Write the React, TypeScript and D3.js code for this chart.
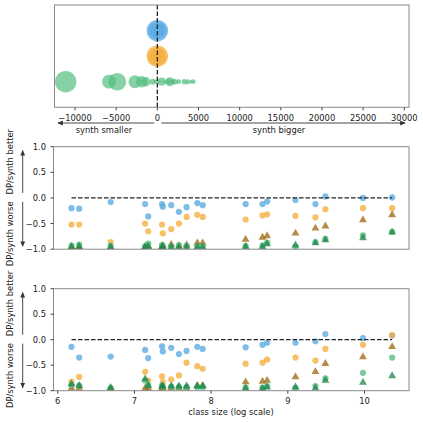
import React from 'react'
import * as d3 from 'd3'

// log of class size, one per class
const logClassSize = [6.18, 6.28, 6.69, 7.14, 7.18, 7.36, 7.37, 7.48, 7.58, 7.68, 7.82, 7.89, 8.45, 8.67, 8.73, 9.1, 9.36, 9.49, 9.98, 10.36]

// synth class size minus real class size (top panel)
const sizeDiffBlue = logClassSize.map(() => 0)
const sizeDiffOrange = logClassSize.map(() => 0)
const sizeDiffGreen = [300, 800, 4100, -200, 1900, 2600, 4370, 3690, 3280, 2150, -560, 1350, 530, 1540, -1410, -1900, -2710, -5870, -4860, -11130]

// middle panel
const blueA = [-0.2, -0.21, -0.08, -0.12, -0.36, -0.12, -0.17, -0.14, -0.27, -0.18, -0.1, -0.14, -0.12, -0.12, -0.07, -0.04, -0.12, 0.03, 0.0, 0.01]
const orangeA = [-0.52, -0.52, -0.86, -0.5, -0.65, -0.52, -0.69, -0.61, -0.5, -0.37, -0.33, -0.37, -0.42, -0.34, -0.32, -0.35, -0.38, -0.22, -0.2, -0.2]
const brownA = [-0.95, -0.95, -0.96, -0.95, -0.94, -0.95, -0.93, -0.91, -0.94, -0.92, -0.88, -0.88, -0.81, -0.77, -0.74, -0.69, -0.59, -0.55, -0.43, -0.33]
const greenA = [-0.93, -0.91, -0.93, -0.94, -0.89, -0.92, -0.93, -0.94, -0.92, -0.93, -0.94, -0.94, -0.94, -0.93, -0.87, -0.95, -0.86, -0.8, -0.73, -0.66]
const dkgreenA = [-0.96, -0.95, -0.96, -0.96, -0.95, -0.96, -0.96, -0.96, -0.96, -0.96, -0.96, -0.96, -0.95, -0.95, -0.9, -0.92, -0.88, -0.82, -0.78, -0.67]

// bottom panel
const blueB = [-0.14, -0.35, -0.33, -0.2, -0.36, -0.13, -0.23, -0.16, -0.28, -0.22, -0.14, -0.18, -0.15, -0.1, -0.06, -0.06, -0.03, 0.11, 0.03, 0.08]
const orangeB = [-0.82, -0.73, -0.97, -0.63, -0.8, -0.72, -0.83, -0.78, -0.7, -0.45, -0.52, -0.57, -0.47, -0.45, -0.39, -0.35, -0.41, -0.18, -0.1, 0.09]
const brownB = [-0.95, -0.95, -0.96, -0.95, -0.95, -0.95, -0.95, -0.95, -0.95, -0.95, -0.9, -0.9, -0.83, -0.82, -0.8, -0.73, -0.63, -0.47, -0.34, -0.14]
const greenB = [-0.89, -0.9, -0.95, -0.8, -0.89, -0.9, -0.92, -0.92, -0.93, -0.93, -0.93, -0.93, -0.94, -0.94, -0.91, -0.95, -0.91, -0.76, -0.65, -0.35]
const dkgreenB = [-0.87, -0.9, -0.94, -0.77, -0.9, -0.91, -0.91, -0.91, -0.91, -0.91, -0.91, -0.91, -0.95, -0.96, -0.93, -0.93, -0.95, -0.8, -0.84, -0.71]

const topTicks = [-10000, -5000, 0, 5000, 10000, 15000, 20000, 25000, 30000]
const yTicks = [-1, -0.5, 0, 0.5, 1]
const xTicks = [6, 7, 8, 9, 10]

const BLUE = '#5DADE2'
const ORANGE = '#F5B041'
const GREEN = '#52BE80'
const BROWN = '#9C640C'
const DKGREEN = '#1E8449'
const FONT = 'DejaVu Sans, sans-serif'
const FS = 8.33
const SPINE = '#8a8a8a'

const tri = d3.symbol().type(d3.symbolTriangle).size(27)

function ScatterPanel({ top, bottom, id, series, showX }) {
  const left = 53.5, right = 409
  const x = d3.scaleLinear().domain([5.945, 10.58]).range([left, right])
  const y = d3.scaleLinear().domain([-1, 1]).range([bottom, top])
  const mid = y(0)
  const x0 = x(d3.min(logClassSize)), x1 = x(d3.max(logClassSize))
  return (
    <g>
      <defs>
        <clipPath id={id}><rect x={left} y={top} width={right - left} height={bottom - top} /></clipPath>
      </defs>
      <g clipPath={`url(#${id})`}>
        {series.map((s, si) => s.vals.map((v, i) => s.shape === 'o'
          ? <circle key={si + '-' + i} cx={x(logClassSize[i])} cy={y(v)} r={3.1} fill={s.color} fillOpacity={0.8} />
          : <path key={si + '-' + i} d={tri()} transform={`translate(${x(logClassSize[i])},${y(v)})`} fill={s.color} fillOpacity={0.75} />))}
      </g>
      <line x1={x0} x2={x1} y1={mid} y2={mid} stroke="#222" strokeWidth={1.3} strokeDasharray="4.5,2" />
      <rect x={left} y={top} width={right - left} height={bottom - top} fill="none" stroke={SPINE} strokeWidth={1} />
      {yTicks.map(t => (
        <g key={t}>
          <line x1={left - 3} x2={left} y1={y(t)} y2={y(t)} stroke="#444" />
          <text x={left - 7.5} y={y(t) + 3} textAnchor="end" fontSize={FS} fontFamily={FONT} fill="#222">{d3.format('.1f')(t)}</text>
        </g>
      ))}
      {showX && xTicks.map(t => (
        <g key={t}>
          <line x1={x(t)} x2={x(t)} y1={bottom} y2={bottom + 3} stroke="#444" />
          <text x={x(t)} y={bottom + 13} textAnchor="middle" fontSize={FS} fontFamily={FONT} fill="#222">{t}</text>
        </g>
      ))}
      {/* y label with arrows */}
      <text transform={`translate(12.5,${mid - 3.5}) rotate(-90)`} textAnchor="start" fontSize={FS} fontFamily={FONT} fill="#222">DP/synth better</text>
      <text transform={`translate(12.5,${mid + 3.5}) rotate(-90)`} textAnchor="end" fontSize={FS} fontFamily={FONT} fill="#222">DP/synth worse</text>
      <line x1={22.7} x2={22.7} y1={mid - 5} y2={top + 4} stroke="#333" strokeWidth={0.9} markerEnd="url(#arr)" />
      <line x1={22.7} x2={22.7} y1={mid + 4} y2={bottom - 3} stroke="#333" strokeWidth={0.9} markerEnd="url(#arr)" />
    </g>
  )
}

function TopPanel() {
  const left = 54.5, right = 409, top = 5, bottom = 107.3
  const x = d3.scaleLinear().domain([-12490, 30570]).range([left, right])
  const y = d3.scaleLinear().domain([-1, 3]).range([bottom, top])
  const r = d3.scaleSqrt().domain([0, Math.exp(10.36)]).range([0, 10.7])
  const rows = [
    { vals: sizeDiffBlue, color: BLUE, row: 2, op: 0.8 },
    { vals: sizeDiffOrange, color: ORANGE, row: 1, op: 0.8 },
    { vals: sizeDiffGreen, color: GREEN, row: 0, op: 0.7 },
  ]
  return (
    <g>
      <defs>
        <clipPath id="clipTop"><rect x={left} y={top} width={right - left} height={bottom - top} /></clipPath>
      </defs>
      <g clipPath="url(#clipTop)">
        {rows.map((s, si) => s.vals.map((v, i) => (
          <circle key={si + '-' + i} cx={x(v)} cy={y(s.row)} r={r(Math.exp(logClassSize[i]))} fill={s.color} fillOpacity={s.op} />
        )))}
      </g>
      <line x1={x(0)} x2={x(0)} y1={top} y2={bottom} stroke="#222" strokeWidth={1.3} strokeDasharray="4.5,2" />
      <rect x={left} y={top} width={right - left} height={bottom - top} fill="none" stroke={SPINE} strokeWidth={1} />
      {topTicks.map(t => (
        <g key={t}>
          <line x1={x(t)} x2={x(t)} y1={bottom} y2={bottom + 3} stroke="#444" />
          <text x={x(t)} y={bottom + 13.4} textAnchor="middle" fontSize={FS} fontFamily={FONT} fill="#222">{d3.format('d')(t)}</text>
        </g>
      ))}
      <line x1={x(0) - 3} x2={58} y1={123} y2={123} stroke="#333" strokeWidth={0.9} markerEnd="url(#arr)" />
      <line x1={x(0) + 4} x2={405} y1={123} y2={123} stroke="#333" strokeWidth={0.9} markerEnd="url(#arr)" />
      <text x={104} y={132.5} textAnchor="middle" fontSize={FS} fontFamily={FONT} fill="#222">synth smaller</text>
      <text x={279} y={132.5} textAnchor="middle" fontSize={FS} fontFamily={FONT} fill="#222">synth bigger</text>
    </g>
  )
}

export default function App() {
  const seriesA = [
    { vals: blueA, color: BLUE, shape: 'o' },
    { vals: orangeA, color: ORANGE, shape: 'o' },
    { vals: brownA, color: BROWN, shape: '^' },
    { vals: greenA, color: GREEN, shape: 'o' },
    { vals: dkgreenA, color: DKGREEN, shape: '^' },
  ]
  const seriesB = [
    { vals: blueB, color: BLUE, shape: 'o' },
    { vals: orangeB, color: ORANGE, shape: 'o' },
    { vals: brownB, color: BROWN, shape: '^' },
    { vals: greenB, color: GREEN, shape: 'o' },
    { vals: dkgreenB, color: DKGREEN, shape: '^' },
  ]
  return (
    <div style={{ position: 'fixed', left: 0, top: 0 }}>
      <svg width={423} height={423} style={{ display: 'block', background: '#fff' }}>
        <defs>
          <marker id="arr" viewBox="0 0 10 10" refX={8} refY={5} markerWidth={6} markerHeight={6} orient="auto-start-reverse" markerUnits="userSpaceOnUse">
            <path d="M0,1 L9,5 L0,9 Z" fill="#333" />
          </marker>
        </defs>
        <TopPanel />
        <ScatterPanel top={146.7} bottom={249.2} id="clipA" series={seriesA} showX={false} />
        <ScatterPanel top={288.7} bottom={390.7} id="clipB" series={seriesB} showX={true} />
        <text x={231} y={415} textAnchor="middle" fontSize={FS} fontFamily={FONT} fill="#222">class size (log scale)</text>
      </svg>
    </div>
  )
}
